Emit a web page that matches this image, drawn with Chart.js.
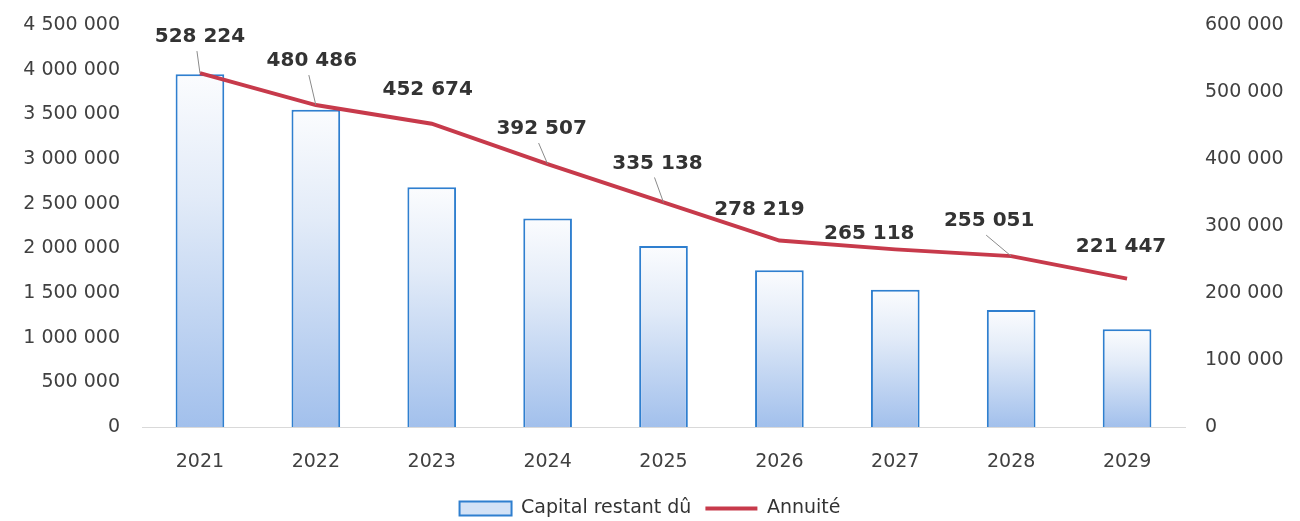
<!DOCTYPE html>
<html>
<head>
<meta charset="utf-8">
<script src="https://cdn.jsdelivr.net/npm/chart.js"></script>
<style>
  html, body { margin: 0; padding: 0; background: #fff; }
  #wrap { width: 1300px; height: 521px; }
</style>
</head>
<body>
<div id="wrap"><canvas id="chart"></canvas></div>
<script>
// données du graphique
const annees = ['2021', '2022', '2023', '2024', '2025', '2026', '2027', '2028', '2029'];
const capitalRestant = [3950000, 3550000, 2685000, 2335000, 2025000, 1755000, 1535000, 1310000, 1095000];
const annuite = [528224, 480486, 452674, 392507, 335138, 278219, 265118, 255051, 221447];
const ticksGauche = [0, 500000, 1000000, 1500000, 2000000, 2500000, 3000000, 3500000, 4000000, 4500000];
const ticksDroite = [0, 100000, 200000, 300000, 400000, 500000, 600000];

const police = "'DejaVu Sans', 'Noto Sans', sans-serif";
const fmt = v => v.toString().replace(/\B(?=(\d{3})+(?!\d))/g, ' ');

// position des étiquettes de l'annuité (décalage en px par rapport au point) et trait de rappel
const decalages = [[0, -36, 1], [-4, -44, 1], [-4, -34, 0], [-6, -35, 1], [-6, -39, 1],
                   [-20, -31, 0], [-26, -16, 0], [-22, -35, 1], [-6, -32, 0]];

const etiquettes = {
    id: 'etiquettes',
    afterDatasetsDraw(chart) {
        const ctx = chart.ctx;
        const meta = chart.getDatasetMeta(1);
        ctx.save();
        ctx.font = "bold 20px " + police;
        ctx.textAlign = 'center';
        ctx.textBaseline = 'middle';
        meta.data.forEach((pt, i) => {
            const d = decalages[i];
            const lx = pt.x + d[0], ly = pt.y + d[1];
            if (d[2]) {
                ctx.strokeStyle = '#8a8a8a';
                ctx.lineWidth = 1;
                ctx.beginPath();
                ctx.moveTo(lx - 3, ly + 14);
                ctx.lineTo(pt.x, pt.y);
                ctx.stroke();
            }
            ctx.fillStyle = '#333333';
            ctx.fillText(fmt(annuite[i]), lx, ly);
        });
        ctx.restore();
    }
};

function degradeBarre(context) {
    const chart = context.chart;
    const area = chart.chartArea;
    if (!area || context.type !== 'data') return '#c9dcf5';
    const y = chart.scales.y;
    const haut = y.getPixelForValue(context.raw);
    const bas = y.getPixelForValue(0);
    const g = chart.ctx.createLinearGradient(0, haut, 0, bas);
    g.addColorStop(0, '#fbfcfe');
    g.addColorStop(0.35, '#e2ebf8');
    g.addColorStop(1, '#a2c0ec');
    return g;
}

const sansMarge = s => { s.paddingTop = 0; s.paddingBottom = 0; };

new Chart(document.getElementById('chart').getContext('2d'), {
    type: 'bar',
    data: {
        labels: annees,
        datasets: [{
            type: 'bar',
            label: 'Capital restant dû',
            data: capitalRestant,
            yAxisID: 'y',
            backgroundColor: degradeBarre,
            borderColor: '#2f7fcf',
            borderWidth: 2,
            barPercentage: 0.84,
            categoryPercentage: 0.5,
            order: 2
        }, {
            type: 'line',
            label: 'Annuité',
            data: annuite,
            yAxisID: 'y1',
            borderColor: '#c73a4b',
            backgroundColor: '#c73a4b',
            borderWidth: 4,
            pointRadius: 0,
            tension: 0,
            order: 1
        }]
    },
    options: {
        responsive: true,
        maintainAspectRatio: false,
        animation: false,
        layout: { padding: { top: 25, left: 0, right: 0, bottom: -7 } },
        plugins: {
            tooltip: { enabled: false },
            legend: {
                position: 'bottom',
                labels: {
                    font: { family: police, size: 19 },
                    color: '#333333',
                    usePointStyle: true,
                    pointStyleWidth: 52,
                    boxHeight: 14,
                    padding: 14,
                    generateLabels(chart) {
                        return [{
                            text: 'Capital restant dû', fillStyle: '#d3e2f6', strokeStyle: '#2f7fcf',
                            lineWidth: 2, pointStyle: 'rect', datasetIndex: 0, fontColor: '#333333'
                        }, {
                            text: 'Annuité', fillStyle: '#c73a4b', strokeStyle: '#c73a4b',
                            lineWidth: 4, pointStyle: 'line', datasetIndex: 1, fontColor: '#333333'
                        }];
                    }
                }
            }
        },
        scales: {
            x: {
                afterFit: s => { s.height = 58; },
                grid: { display: false, drawTicks: false },
                border: { display: true, color: '#d9d9d9', width: 1 },
                ticks: { font: { family: police, size: 19 }, color: '#404040', padding: 24 }
            },
            y: {
                position: 'left',
                min: 0, max: 4500000,
                afterBuildTicks: s => { s.ticks = ticksGauche.map(v => ({ value: v })); },
                afterFit: s => { s.width = 142; sansMarge(s); },
                grid: { display: false, drawTicks: false },
                border: { display: false },
                ticks: { font: { family: police, size: 19 }, color: '#404040', padding: 22, callback: v => fmt(v) }
            },
            y1: {
                position: 'right',
                min: 0, max: 600000,
                afterBuildTicks: s => { s.ticks = ticksDroite.map(v => ({ value: v })); },
                afterFit: s => { s.width = 115; sansMarge(s); },
                grid: { display: false, drawTicks: false },
                border: { display: false },
                ticks: { font: { family: police, size: 19 }, color: '#404040', padding: 20, callback: v => fmt(v) }
            }
        }
    },
    plugins: [etiquettes]
});
</script>
</body>
</html>
